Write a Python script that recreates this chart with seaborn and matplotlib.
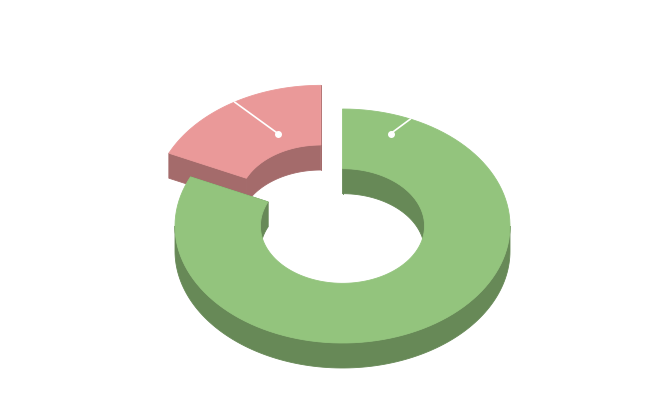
import numpy as np
import matplotlib
matplotlib.use("Agg")
import matplotlib.pyplot as plt
from matplotlib.patches import Polygon
import seaborn as sns

# ---- data ----
categories = ["A", "B"]
values = [81.9, 18.1]
colors = ["#93c47d", "#ea9999"]
sliced = [False, True]
# label connector anchors (angle deg clockwise from top, radius fraction)
label_dot = [(20.0, 0.84), (336.5, 0.64)]
label_end = [(23.9, 1.0), (329.0, 1.0)]

sns.set_theme(style="white")

W, H = 666, 400
CX, CY = 342.5, 226.0
RX, RY = 167.5, 117.0
INNER = 0.49
DEPTH = 25.0
EXPLODE = 0.24
SHADE = 0.7

fig = plt.figure(figsize=(W / 100, H / 100), dpi=100)
ax = fig.add_axes([0, 0, 1, 1])
ax.set_xlim(0, W)
ax.set_ylim(H, 0)
ax.axis("off")


def P(theta, r, z, off):
    t = np.radians(theta)
    return (CX + off[0] + r * RX * np.sin(t),
            CY + off[1] - r * RY * np.cos(t) + z * DEPTH)


def arc(t0, t1, r, z, off, n=120):
    ts = np.linspace(t0, t1, n)
    return [P(t, r, z, off) for t in ts]


def shade(hexc):
    rgb = np.array(matplotlib.colors.to_rgb(hexc)) * SHADE
    return tuple(rgb)


def overlap(a0, a1, ranges):
    out = []
    for lo, hi in ranges:
        s, e = max(a0, lo), min(a1, hi)
        if e > s:
            out.append((s, e))
    return out


BACK = [(0, 90), (270, 450)]
FRONT = [(90, 270)]

total = sum(values)
starts = np.concatenate([[0], np.cumsum(values)[:-1]]) / total * 360
ends = np.cumsum(values) / total * 360

order = [1, 0]  # draw exploded back slice first
for i in order:
    t0, t1 = starts[i], ends[i]
    mid = (t0 + t1) / 2
    if sliced[i]:
        off = (EXPLODE * RX * np.sin(np.radians(mid)),
               -EXPLODE * RY * np.cos(np.radians(mid)))
    else:
        off = (0.0, 0.0)
    top = colors[i]
    side = shade(top)
    kw = dict(closed=True, linewidth=0.6)
    # inner walls (back part)
    for a, b in overlap(t0, t1, BACK):
        pts = arc(a, b, INNER, 0, off) + arc(b, a, INNER, 1, off)
        ax.add_patch(Polygon(pts, facecolor=side, edgecolor=side, **kw))
    # caps
    for t in (t0, t1):
        pts = [P(t, INNER, 0, off), P(t, 1, 0, off), P(t, 1, 1, off), P(t, INNER, 1, off)]
        ax.add_patch(Polygon(pts, facecolor=side, edgecolor=side, **kw))
    # outer walls (front part)
    for a, b in overlap(t0, t1, FRONT):
        pts = arc(a, b, 1, 0, off) + arc(b, a, 1, 1, off)
        ax.add_patch(Polygon(pts, facecolor=side, edgecolor=side, **kw))
    # top face
    pts = arc(t0, t1, 1, 0, off) + arc(t1, t0, INNER, 0, off)
    ax.add_patch(Polygon(pts, facecolor=top, edgecolor=top, **kw))
    # label connector
    d = P(label_dot[i][0], label_dot[i][1], 0, off)
    e = P(label_end[i][0], label_end[i][1], 0, off)
    ax.plot([d[0], e[0]], [d[1], e[1]], color="white", linewidth=1.2)
    ax.plot([d[0]], [d[1]], marker="o", color="white", markersize=4)

fig.savefig("out.png", dpi=100, facecolor="white")
